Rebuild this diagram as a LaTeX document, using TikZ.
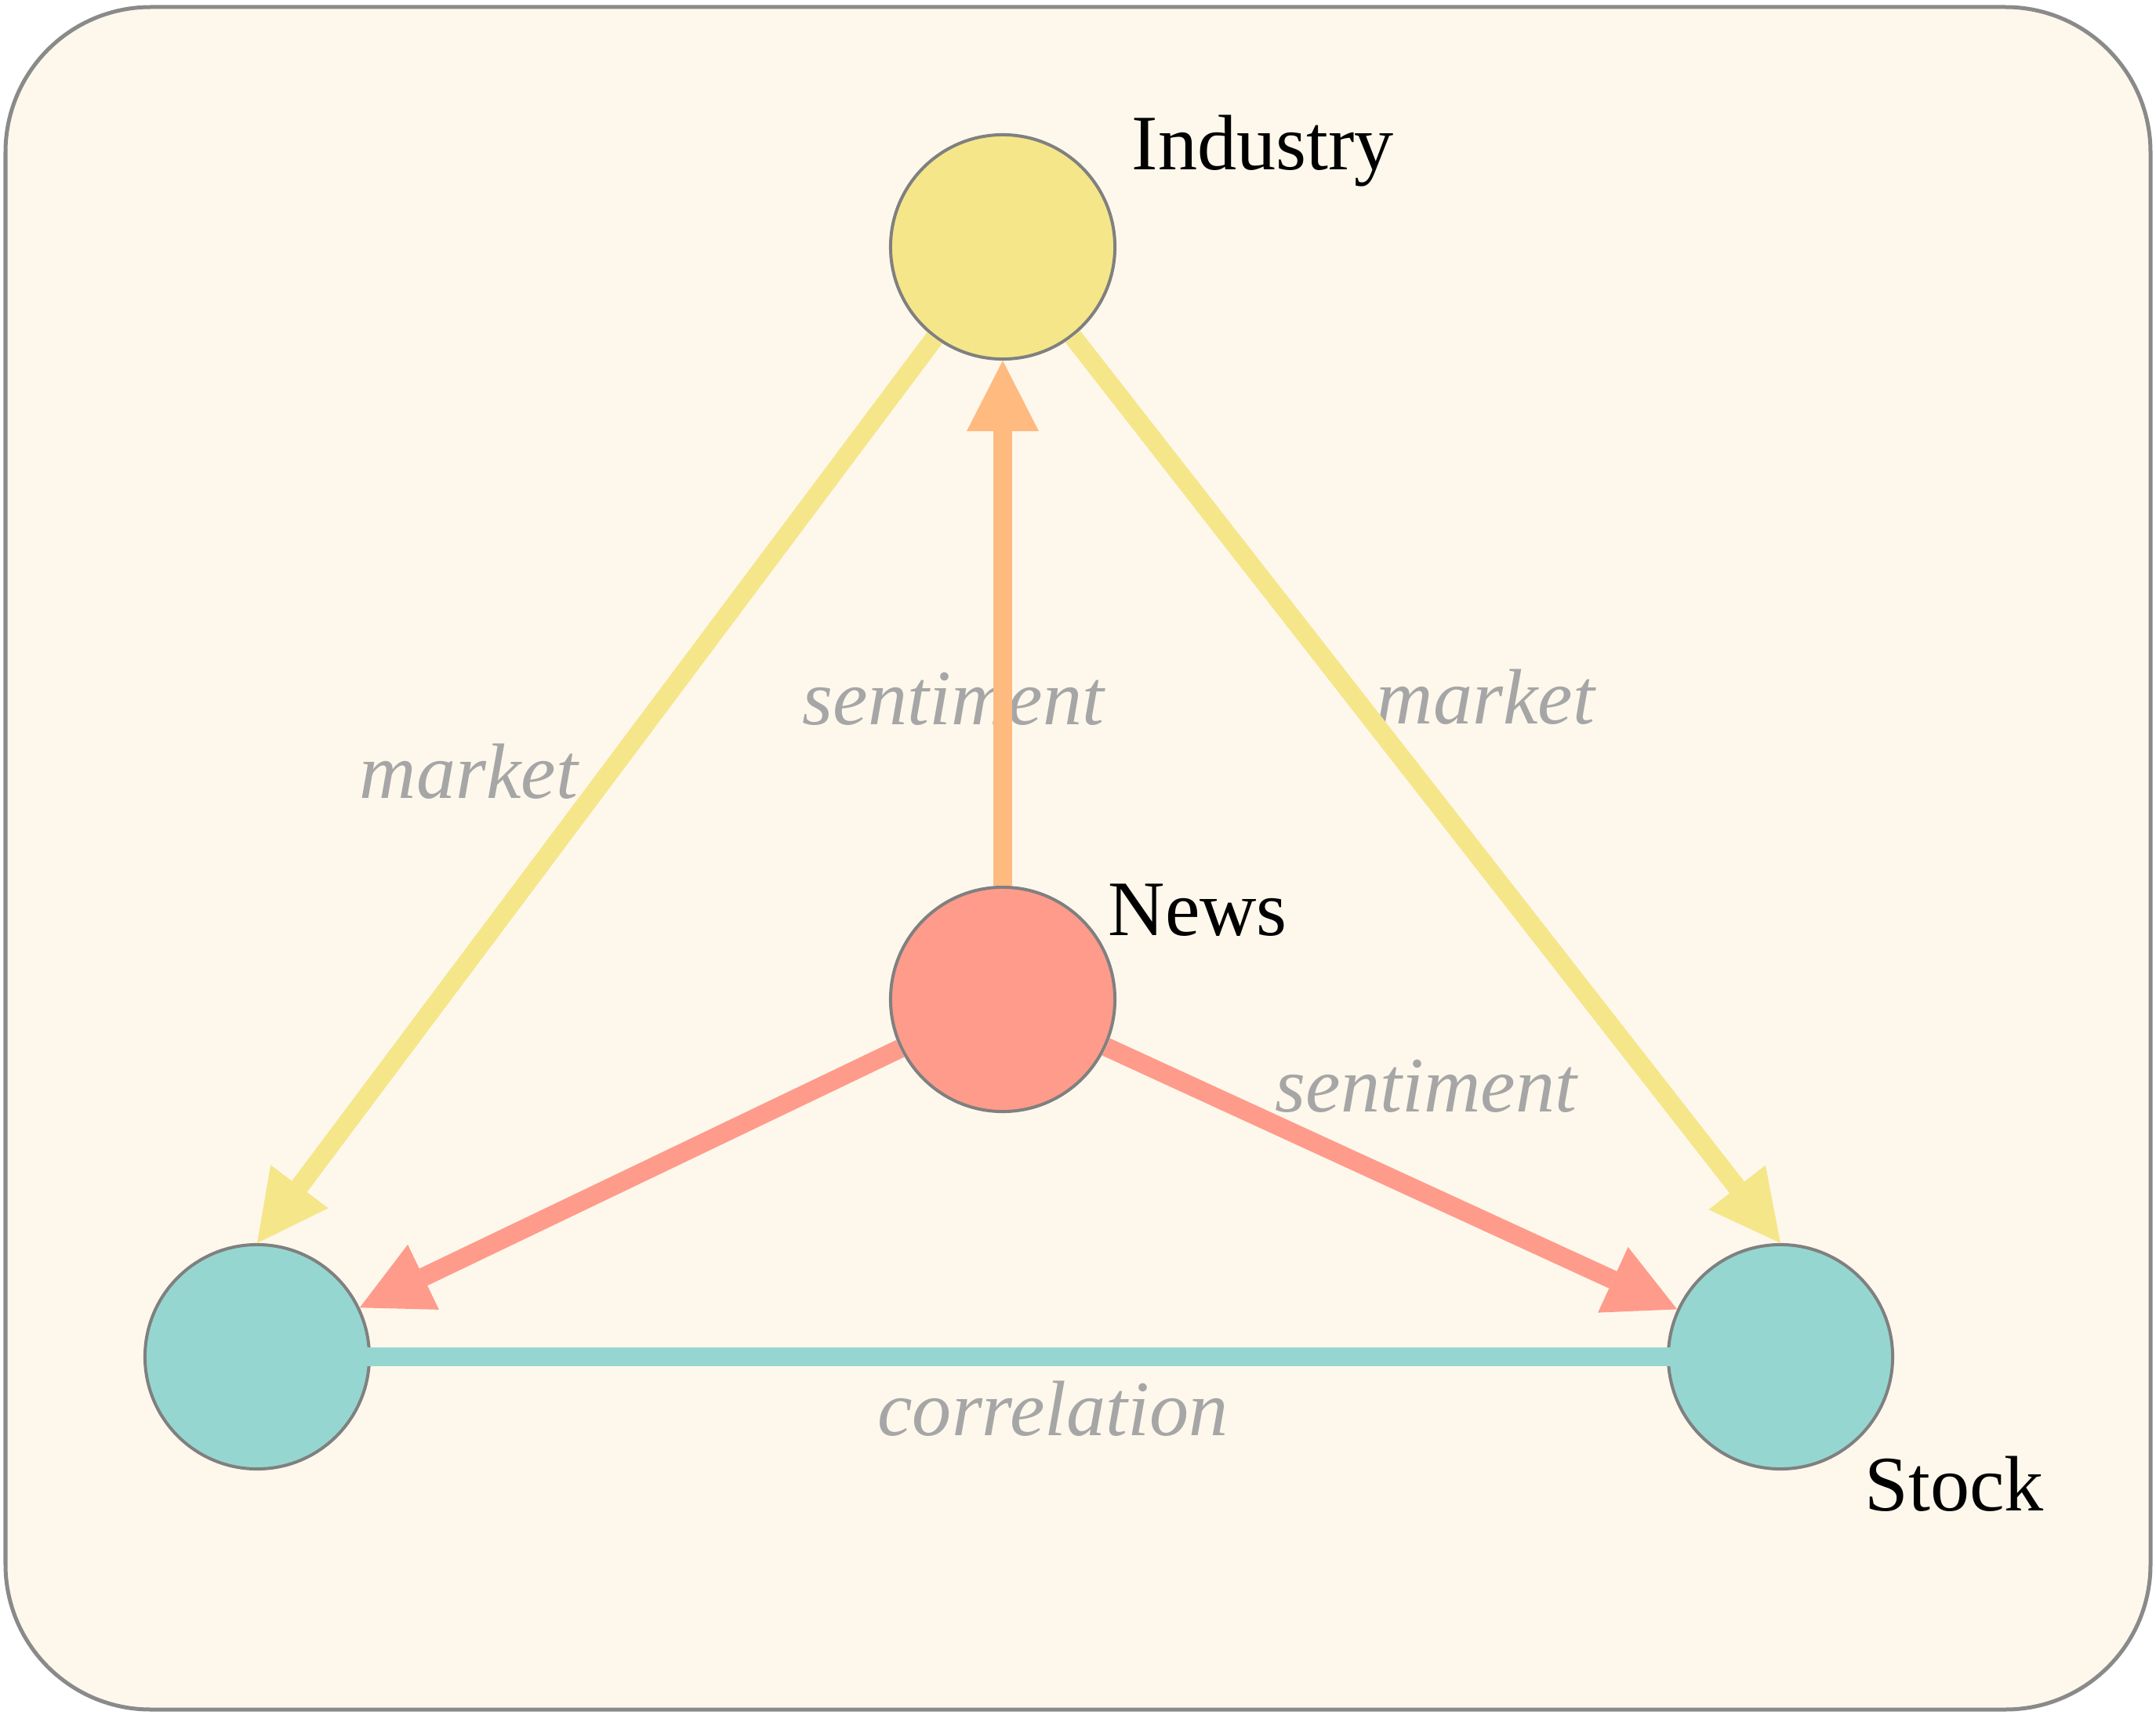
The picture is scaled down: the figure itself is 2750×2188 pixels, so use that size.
\documentclass[tikz,border=0pt]{standalone}
\usepackage{fontspec}
\setmainfont{Liberation Serif}
\usetikzlibrary{arrows.meta}
\begin{document}
\begin{tikzpicture}[x=0.01cm, y=-0.01cm,
  vertex/.style={circle, draw=ringgray, line width=0.04cm, minimum size=2.86cm, inner sep=0pt},
  title/.style={anchor=base west, inner sep=0pt, text=black, font=\fontsize{28.5}{34}\selectfont},
  lbl/.style={anchor=base, inner sep=0pt, text=lblgray, font=\fontsize{28.5}{34}\selectfont\itshape},
  edge/.style={line width=0.24cm, -{Triangle[length=0.9cm, width=0.92cm, line width=0pt]}}]
\definecolor{bg}{HTML}{FEF8EC}
\definecolor{framegray}{HTML}{8A8A8A}
\definecolor{ringgray}{HTML}{808080}
\definecolor{lblgray}{HTML}{A6A6A6}
\definecolor{yel}{HTML}{F5E68A}
\definecolor{salmon}{HTML}{FF9B8B}
\definecolor{tealfill}{HTML}{95D7D0}
\definecolor{orangeline}{HTML}{FFBA80}
\useasboundingbox (0,0) rectangle (2750,2188);
\draw[draw=framegray, fill=bg, line width=0.05cm, rounded corners=1.85cm] (7,9) rectangle (2743,2181);
% nodes
\node[vertex, fill=yel] (ind) at (1279,315) {};
\node[vertex, fill=salmon] (news) at (1279,1275) {};
\node[vertex, fill=tealfill] (peer) at (328,1731) {};
\node[vertex, fill=tealfill] (stock) at (2271,1731) {};
\node[title] (tind) at (1443,217) {Industry};
\node[title] (tnews) at (1413,1193) {News};
\node[title] (tstock) at (2378,1927) {Stock};
% edge labels
\node[lbl] (lsentup) at (1216,924) {sentiment};
\node[lbl] (lmarketl) at (598,1018) {market};
\node[lbl] (lmarketr) at (1895,923) {market};
\node[lbl] (lsentr) at (1819,1418) {sentiment};
\node[lbl] (lcorr) at (1343,1831) {correlation};
% edges
\draw[edge, orangeline] (news) -- (ind);
\draw[edge, yel] (ind) -- (peer.north);
\draw[edge, yel] (ind) -- (stock.north);
\draw[edge, salmon] (news) -- (peer);
\draw[edge, salmon] (news) -- (stock);
\draw[edge, tealfill, line cap=round] (peer.center) -- (stock.center);
\end{tikzpicture}
\end{document}
